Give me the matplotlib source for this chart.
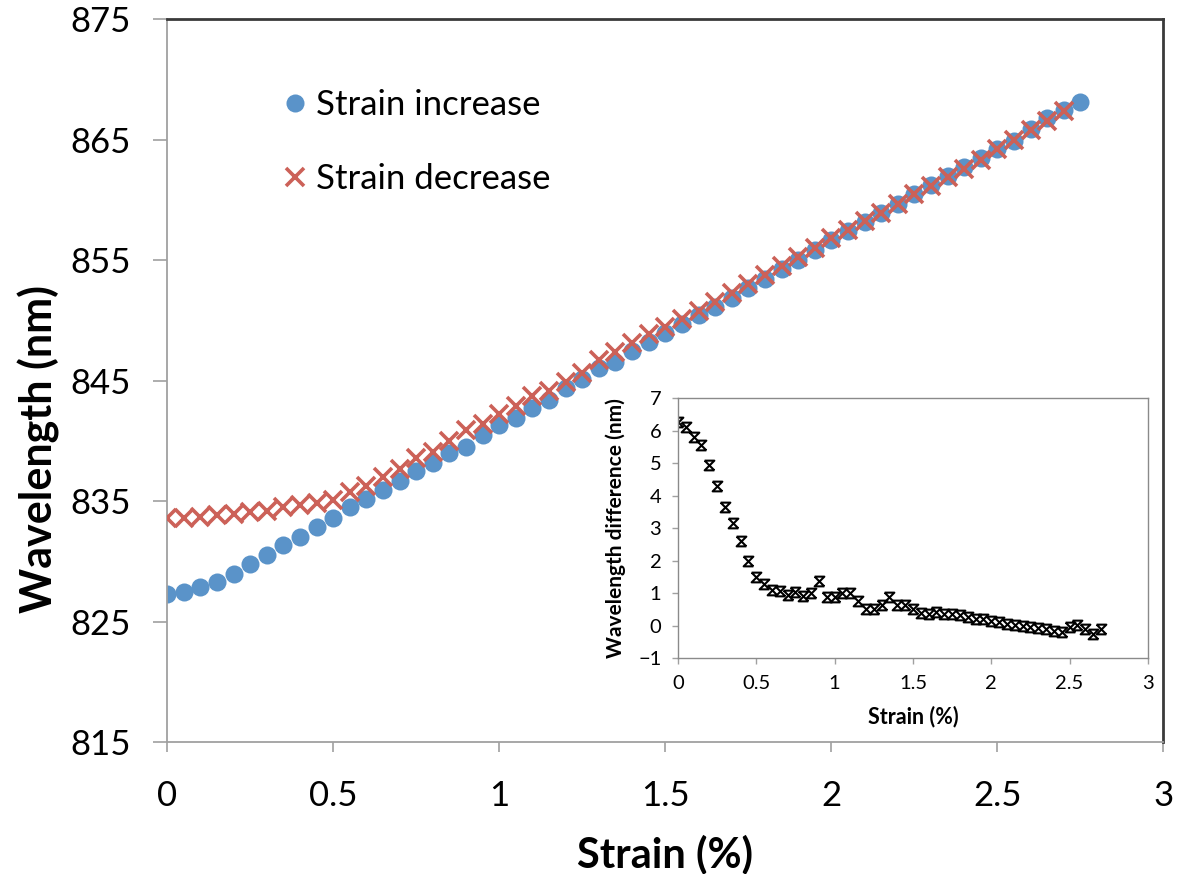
import matplotlib
matplotlib.use('Agg')
import matplotlib.pyplot as plt
from matplotlib.path import Path
from matplotlib.ticker import FormatStrFormatter, MultipleLocator

plt.rcParams['font.family'] = ['Lato', 'DejaVu Sans']

# strain steps (%)
strain_up = [0.00, 0.05, 0.10, 0.15, 0.20, 0.25, 0.30, 0.35, 0.40, 0.45,
             0.50, 0.55, 0.60, 0.65, 0.70, 0.75, 0.80, 0.85, 0.90, 0.95,
             1.00, 1.05, 1.10, 1.15, 1.20, 1.25, 1.30, 1.35, 1.40, 1.45,
             1.50, 1.55, 1.60, 1.65, 1.70, 1.75, 1.80, 1.85, 1.90, 1.95,
             2.00, 2.05, 2.10, 2.15, 2.20, 2.25, 2.30, 2.35, 2.40, 2.45,
             2.50, 2.55, 2.60, 2.65, 2.70, 2.75]
wl_up = [827.31, 827.48, 827.86, 828.31, 828.98, 829.83, 830.53, 831.39, 832.06, 832.89,
         833.58, 834.48, 835.17, 835.92, 836.69, 837.53, 838.17, 838.98, 839.53, 840.50,
         841.36, 841.89, 842.73, 843.42, 844.39, 845.11, 846.07, 846.51, 847.46, 848.19,
         848.95, 849.72, 850.44, 851.09, 851.88, 852.66, 853.44, 854.23, 855.04, 855.81,
         856.68, 857.43, 858.16, 858.89, 859.67, 860.49, 861.24, 861.97, 862.72, 863.49,
         864.24, 864.91, 865.90, 866.75, 867.45, 868.08]

strain_down = strain_up[:-1]
wl_down = [833.58, 833.58, 833.67, 833.86, 833.91, 834.12, 834.18, 834.54, 834.67, 834.89,
           835.07, 835.75, 836.25, 836.99, 837.63, 838.57, 839.08, 839.99, 840.90, 841.38,
           842.24, 842.90, 843.74, 844.17, 844.91, 845.63, 846.69, 847.40, 848.10, 848.83,
           849.47, 850.11, 850.78, 851.50, 852.25, 853.00, 853.75, 854.50, 855.25, 856.00,
           856.83, 857.53, 858.22, 858.92, 859.67, 860.44, 861.15, 861.85, 862.55, 863.28,
           864.19, 864.94, 865.78, 866.50, 867.33]

# inset: decrease minus increase
wl_diff = [6.27, 6.10, 5.81, 5.55, 4.93, 4.29, 3.65, 3.15, 2.61, 2.00,
           1.49, 1.27, 1.08, 1.07, 0.94, 1.04, 0.91, 1.01, 1.37, 0.88,
           0.88, 1.01, 1.01, 0.75, 0.52, 0.52, 0.62, 0.89, 0.64, 0.64,
           0.52, 0.39, 0.34, 0.41, 0.37, 0.34, 0.31, 0.27, 0.21, 0.19,
           0.15, 0.10, 0.06, 0.03, 0.00, -0.05, -0.09, -0.12, -0.17, -0.21,
           -0.05, 0.03, -0.12, -0.25, -0.12]

y_ticks = [815, 825, 835, 845, 855, 865, 875]

blue = '#5A93C9'
red = '#CC6158'
grey = '#A0A0A0'

fig = plt.figure(figsize=(11.77, 8.74), dpi=100)
ax = fig.add_axes([0.1421, 0.1507, 0.8463, 0.8276])

ax.plot(strain_up, wl_up, 'o', color=blue, ms=13, mec='none', label='Strain increase', zorder=2)
ax.plot(strain_down, wl_down, 'x', color=red, ms=13, mew=2.6, label='Strain decrease', zorder=3)

ax.set_xlim(0, 3)
ax.set_ylim(815, 875)
ax.xaxis.set_major_locator(MultipleLocator(0.5))
ax.set_yticks(y_ticks)
ax.xaxis.set_major_formatter(FormatStrFormatter('%g'))
ax.tick_params(axis='y', direction='out', length=10, width=1.2, color=grey,
               labelsize=25, pad=16)
ax.tick_params(axis='x', direction='out', length=7, width=1.2, color=grey,
               labelsize=25, pad=20)
for s in ['left', 'bottom']:
    ax.spines[s].set_color(grey)
    ax.spines[s].set_linewidth(1.3)
for s in ['top', 'right']:
    ax.spines[s].set_color('#3A3A3A')
    ax.spines[s].set_linewidth(2)

ax.set_xlabel('Strain (%)', fontsize=30, fontweight='bold', labelpad=16)
ax.set_ylabel('Wavelength (nm)', fontsize=31, fontweight='bold')
ax.yaxis.set_label_coords(-0.108, 0.405)

ax.legend(loc='upper left', bbox_to_anchor=(0.114, 0.903), frameon=False,
          fontsize=25, handletextpad=0.2, labelspacing=1.22, handlelength=0.8,
          borderaxespad=0, borderpad=0)

# inset
hourglass = Path([(-1, 1), (1, -1), (-1, 1), (1, 1), (-1, -1), (1, -1)],
                 [Path.MOVETO, Path.LINETO, Path.MOVETO, Path.LINETO, Path.LINETO, Path.LINETO])

ins = fig.add_axes([0.576, 0.2471, 0.3993, 0.2975])
ins.plot(strain_down, wl_diff, linestyle='none', marker=hourglass, ms=7,
         mec='black', mfc='none', mew=1.5)
ins.set_xlim(0, 3)
ins.set_ylim(-1, 7)
ins.xaxis.set_major_locator(MultipleLocator(0.5))
ins.yaxis.set_major_locator(MultipleLocator(1))
ins.xaxis.set_major_formatter(FormatStrFormatter('%g'))
ins.tick_params(direction='out', length=4, width=1, color=grey, labelsize=14.5, pad=8)
for s in ins.spines.values():
    s.set_color('#8A8A8A')
    s.set_linewidth(1)
ins.set_xlabel('Strain (%)', fontsize=15.5, fontweight='bold', labelpad=10)
ins.set_ylabel('Wavelength difference (nm)', fontsize=15, fontweight='bold', labelpad=9)

fig.savefig('out.png', dpi=100)
